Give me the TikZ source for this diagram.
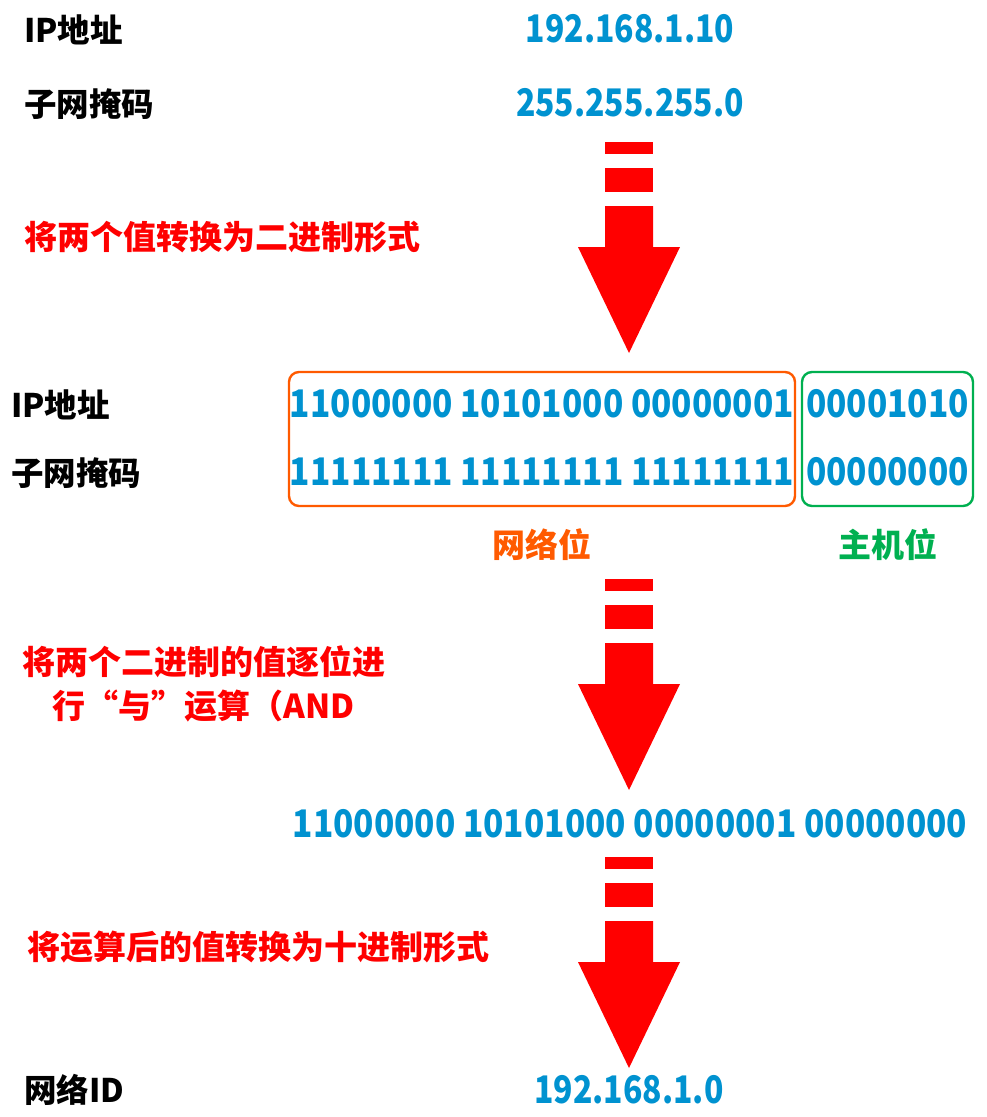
\documentclass[tikz,border=0pt]{standalone}
\usepackage{fontspec}
\setmainfont{Noto Sans CJK SC}
\newfontfamily\binfont{Noto Sans CJK SC}[FakeStretch=0.88]
\newfontfamily\decfont{Noto Sans CJK SC}[FakeStretch=0.84]
\usetikzlibrary{positioning}

\definecolor{numblue}{RGB}{0,146,208}
\definecolor{netorange}{RGB}{255,90,0}
\definecolor{hostgreen}{RGB}{0,176,80}
\definecolor{stepred}{RGB}{255,0,0}

\tikzset{
  lbl/.style={anchor=west,inner sep=0pt,font=\fontsize{32.5}{38}\selectfont\bfseries},
  num/.style={inner sep=0pt,text=numblue,font=\decfont\fontsize{38}{44}\selectfont\bfseries},
  bin/.style={inner sep=0pt,text=numblue,font=\binfont\fontsize{38}{44}\selectfont\bfseries},
  note/.style={inner sep=0pt,text=stepred,align=center,font=\fontsize{33}{44}\selectfont\bfseries},
  part/.style={inner sep=0pt,font=\fontsize{33}{38}\selectfont\bfseries},
  bitbox/.style={draw,line width=2.4pt,rounded corners=10pt,inner sep=0pt},
  downarrow/.style={fill=stepred},
}

\begin{document}
\begin{tikzpicture}[x=1pt,y=-1pt]
\useasboundingbox (0,0) rectangle (987,1117);

% values
\node[lbl] (iplbl) at (24,30) {IP地址};
\node[lbl] (masklbl) at (24,104) {子网掩码};
\node[num] (ipdec) at (630,29) {192.168.1.10};
\node[num] (maskdec) at (630,103) {255.255.255.0};

% step arrows
\foreach \t in {142,579,857}{
  \fill[downarrow] (605,\t) rectangle (653,\t+12);
  \fill[downarrow] (605,\t+26) rectangle (653,\t+50);
  \fill[downarrow] (605,\t+64) -- (653,\t+64) -- (653,\t+105) -- (680,\t+105)
    -- (629,\t+211) -- (578,\t+105) -- (605,\t+105) -- cycle;
}

\node[note,anchor=west] (step1) at (24,237) {将两个值转换为二进制形式};

% binary form
\node[lbl] (iplbl2) at (11,405) {IP地址};
\node[lbl] (masklbl2) at (11,473) {子网掩码};
\node[bitbox,draw=netorange,minimum width=506,minimum height=134] (netbox) at (542,439) {};
\node[bitbox,draw=hostgreen,minimum width=171,minimum height=134] (hostbox) at (887.5,439) {};
\node[bin] (ipnet) at (542,404) {11000000 10101000 00000001};
\node[bin] (masknet) at (542,472) {11111111 11111111 11111111};
\node[bin] (iphost) at (887.5,404) {00001010};
\node[bin] (maskhost) at (887.5,472) {00000000};
\node[part,text=netorange] (netlbl) at (542,545) {网络位};
\node[part,text=hostgreen] (hostlbl) at (888,545) {主机位};

\node[note] (step2) at (204,684) {将两个二进制的值逐位进\\行“与”运算（AND};

% result
\node[bin] (andres) at (630,824) {11000000 10101000 00000001 00000000};

\node[note,anchor=west] (step3) at (27,947) {将运算后的值转换为十进制形式};

\node[lbl] (netidlbl) at (24,1090) {网络ID};
\node[num] (netid) at (629,1090) {192.168.1.0};
\end{tikzpicture}
\end{document}
